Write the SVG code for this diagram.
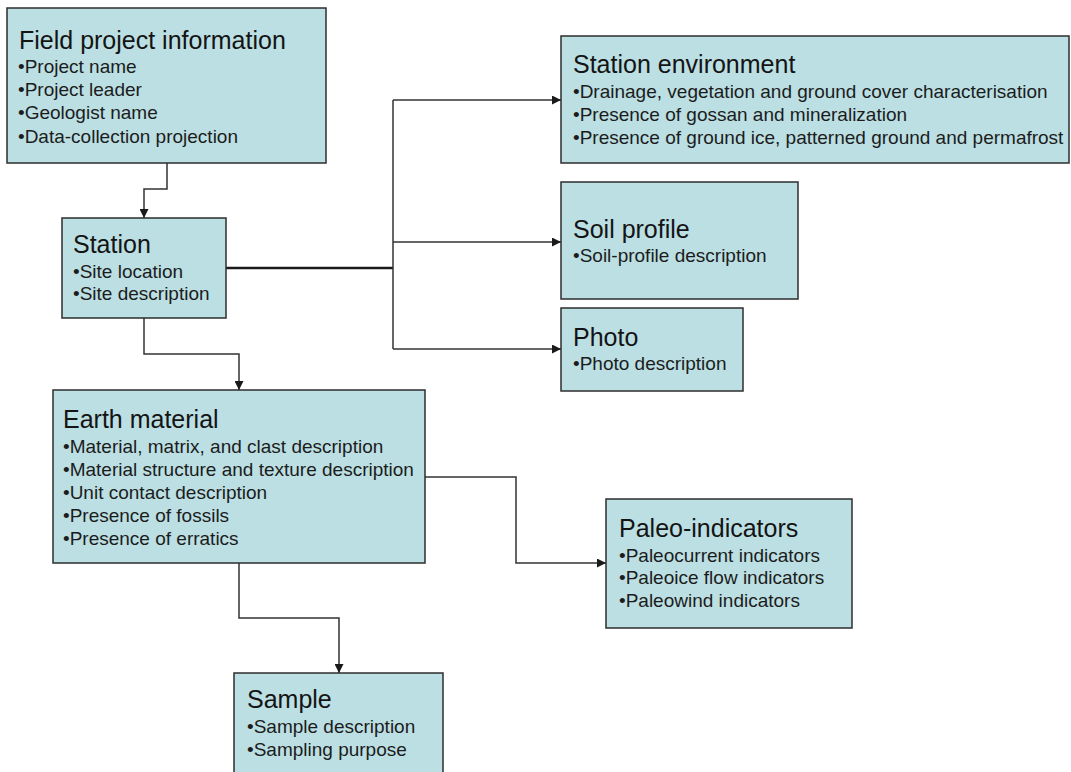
<svg xmlns="http://www.w3.org/2000/svg" width="1071" height="772" viewBox="0 0 1071 772">
<style>
.box{fill:#bbdfe3;stroke:#2e2e2e;stroke-width:1.5}
.t{font-family:"Liberation Sans",Arial,sans-serif;font-size:25px;fill:#141414}
.b{font-family:"Liberation Sans",Arial,sans-serif;font-size:19px;fill:#1c1c1c}
.c{fill:none;stroke:#333;stroke-width:1.5}
</style>
<defs>
<marker id="arr" viewBox="0 0 10 10" refX="10" refY="5" markerWidth="10" markerHeight="9" orient="auto" markerUnits="userSpaceOnUse">
<path d="M0,0 L10,5 L0,10 z" fill="#1a1a1a"/>
</marker>
</defs>
<rect width="1071" height="772" fill="#fff"/>
<g id="connectors">
<path class="c" d="M167,163 V189 H144 V218" marker-end="url(#arr)"/>
<path d="M226,268 H393" fill="none" stroke="#1a1a1a" stroke-width="2.5"/>
<path class="c" d="M393,100 V349"/>
<path class="c" d="M393,100 H561" marker-end="url(#arr)"/>
<path class="c" d="M393,242 H561" marker-end="url(#arr)"/>
<path class="c" d="M393,349 H561" marker-end="url(#arr)"/>
<path class="c" d="M144,318 V354 H239 V390" marker-end="url(#arr)"/>
<path class="c" d="M425,477 H516 V563 H606" marker-end="url(#arr)"/>
<path class="c" d="M239,563 V618 H339 V673" marker-end="url(#arr)"/>
</g>
<g id="field">
<rect class="box" x="7" y="8" width="319" height="155"/>
<text class="t" x="19" y="49">Field project information</text>
<text class="b" x="18" y="73">•Project name</text>
<text class="b" x="18" y="96">•Project leader</text>
<text class="b" x="18" y="119">•Geologist name</text>
<text class="b" x="18" y="143">•Data-collection projection</text>
</g>
<g id="station">
<rect class="box" x="62" y="218" width="164" height="100"/>
<text class="t" x="73" y="253">Station</text>
<text class="b" x="73" y="278">•Site location</text>
<text class="b" x="73" y="300">•Site description</text>
</g>
<g id="station-environment">
<rect class="box" x="561" y="36" width="508" height="127"/>
<text class="t" x="573" y="73">Station environment</text>
<text class="b" x="573" y="98">•Drainage, vegetation and ground cover characterisation</text>
<text class="b" x="573" y="121">•Presence of gossan and mineralization</text>
<text class="b" x="573" y="144">•Presence of ground ice, patterned ground and permafrost</text>
</g>
<g id="soil-profile">
<rect class="box" x="561" y="182" width="237" height="117"/>
<text class="t" x="573" y="238">Soil profile</text>
<text class="b" x="573" y="262">•Soil-profile description</text>
</g>
<g id="photo">
<rect class="box" x="561" y="308" width="182" height="83"/>
<text class="t" x="573" y="346">Photo</text>
<text class="b" x="573" y="370">•Photo description</text>
</g>
<g id="earth-material">
<rect class="box" x="53" y="390" width="372" height="173"/>
<text class="t" x="63" y="428">Earth material</text>
<text class="b" x="63" y="453">•Material, matrix, and clast description</text>
<text class="b" x="63" y="476">•Material structure and texture description</text>
<text class="b" x="63" y="499">•Unit contact description</text>
<text class="b" x="63" y="522">•Presence of fossils</text>
<text class="b" x="63" y="545">•Presence of erratics</text>
</g>
<g id="paleo-indicators">
<rect class="box" x="606" y="499" width="246" height="129"/>
<text class="t" x="619" y="537">Paleo-indicators</text>
<text class="b" x="619" y="562">•Paleocurrent indicators</text>
<text class="b" x="619" y="584">•Paleoice flow indicators</text>
<text class="b" x="619" y="607">•Paleowind indicators</text>
</g>
<g id="sample">
<rect class="box" x="234" y="673" width="209" height="110"/>
<text class="t" x="247" y="708">Sample</text>
<text class="b" x="247" y="733">•Sample description</text>
<text class="b" x="247" y="756">•Sampling purpose</text>
</g>
</svg>
